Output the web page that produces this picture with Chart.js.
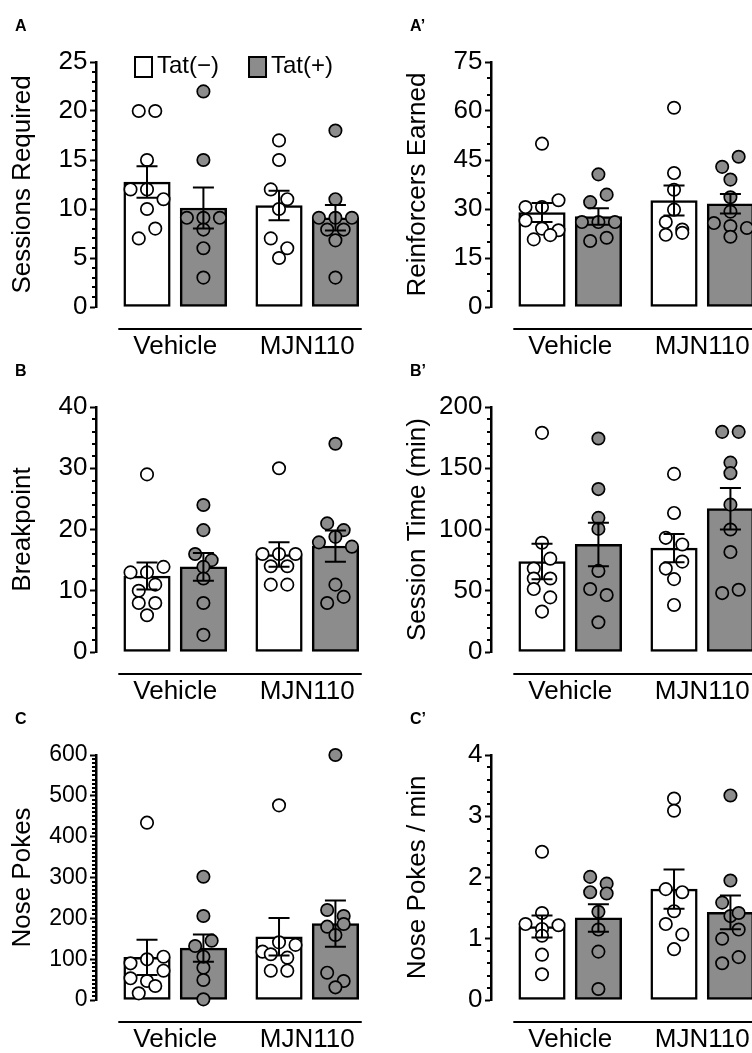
<!DOCTYPE html>
<html>
<head>
<meta charset="utf-8">
<script src="https://cdn.jsdelivr.net/npm/chart.js@4.4.0/dist/chart.umd.min.js"></script>
<style>
  html, body { margin: 0; padding: 0; background: #fff; }
  #fig { position: relative; width: 752px; height: 1053px; overflow: hidden; }
  #fig canvas { position: absolute; }
</style>
</head>
<body>
<div id="fig"></div>
<script>
// groups on the x axis and the two series
const groups = ['Vehicle', 'MJN110'];
const seriesNames = ['Tat(\u2212)', 'Tat(+)'];

// A: sessions required
const sessNegMean = [12.75, 10.35];
const sessPosMean = [10.1, 9.1];
const sessNegSem = [1.6, 1.5];
const sessPosSem = [2.1, 1.3];
const sessNegPts = [[20, 20, 15, 12, 12, 11, 10, 7, 8], [17, 15, 12, 11, 10, 7, 6, 5]];
const sessPosPts = [[22, 15, 9.1, 9.1, 9.1, 7.9, 6, 3], [18, 11, 9.1, 9.1, 9.1, 7.9, 7.9, 6.8, 3]];

// A': reinforcers earned
const reinNegMean = [28.9, 32.6];
const reinPosMean = [27.7, 31.6];
const reinNegSem = [2.9, 4.6];
const reinPosSem = [2.5, 3.0];
const reinNegPts = [[50, 30.6, 30.6, 32.7, 26.5, 24, 23.5, 20.7, 22], [61, 41, 35.9, 29.8, 26, 23.7, 22.1, 22.7]];
const reinPosPts = [[40.6, 32.1, 34.4, 26, 26, 26, 20.2, 21.2], [42.9, 46, 39, 33.6, 29.2, 25.7, 24.8, 24.2, 21.5]];

// B: breakpoint
const bpNegMean = [12.4, 15.9];
const bpPosMean = [13.9, 17.3];
const bpNegSem = [2.2, 2.0];
const bpPosSem = [2.25, 2.55];
const bpNegPts = [[29, 13, 13, 13.9, 10, 11, 8, 8, 6], [30, 16, 16, 16, 14, 14, 11, 11]];
const bpPosPts = [[24, 19.9, 16, 15, 13.9, 12, 8, 2.8], [34, 21, 19.9, 17.9, 18.8, 17.2, 11, 8, 9]];

// B': session time (min)
const timeNegMean = [73.8, 84.8];
const timePosMean = [87.8, 117];
const timeNegSem = [14.5, 11.5];
const timePosSem = [17.8, 16.9];
const timeNegPts = [[178.9, 89.2, 68.1, 76.2, 60, 60, 51.4, 44.6, 33], [145.4, 113.5, 93.2, 87.8, 68.1, 73.8, 59.5, 38.4]];
const timePosPts = [[174.3, 133, 100.5, 109.5, 66.2, 51.4, 46.5, 24.3], [179.7, 179.7, 154.6, 146, 120.3, 100, 81.6, 48.1, 50.8]];

// C: nose pokes
const pokeNegMean = [104.5, 155];
const pokePosMean = [127, 187];
const pokeNegSem = [43, 46];
const pokePosSem = [33.5, 56.5];
const pokeNegPts = [[434.3, 89.8, 99.6, 106.1, 53.1, 46.5, 71.8, 16.3, 34.3], [476.7, 118.4, 141.2, 135, 112, 103.7, 71.8, 71.8]];
const pokePosPts = [[302, 205.7, 132.2, 145.3, 79.2, 106.1, 49, 1.6], [600, 220.4, 205.7, 179.6, 186.1, 159.2, 66.9, 46.5, 31]];

// C': nose pokes per minute
const rateNegMean = [1.2, 1.81];
const ratePosMean = [1.34, 1.43];
const rateNegSem = [0.18, 0.32];
const ratePosSem = [0.225, 0.275];
const rateNegPts = [[2.42, 1.42, 1.24, 1.16, 1.22, 1.05, 0.74, 0.42], [3.29, 3.09, 1.81, 1.76, 1.45, 1.24, 1.07, 0.83]];
const ratePosPts = [[2.01, 1.9, 1.76, 1.74, 1.44, 1.15, 0.79, 0.18], [3.34, 1.95, 1.59, 1.37, 1.42, 1.0, 1.15, 0.6, 0.7]];

const FONT = '"Liberation Sans", Arial, sans-serif';
const GREY = '#8c8c8c';
const OFF = 0.2136;      // bar offset from group centre (x units)
const ROW_GAP = 10.5;    // px, points closer than this share a row
const SLOT = 16.5;       // px between points in a row

Chart.defaults.font.family = FONT;
Chart.defaults.color = '#000';
Chart.defaults.animation = false;

const prism = {
  id: 'prism',
  // spread points of similar value sideways, prism style
  afterDatasetsUpdate(chart) {
    chart.data.datasets.forEach((ds, di) => {
      if (ds.type !== 'scatter') return;
      const pts = chart.getDatasetMeta(di).data;
      const byX = {};
      ds.data.forEach((d, i) => { (byX[d.x] = byX[d.x] || []).push(i); });
      Object.values(byX).forEach(idx => {
        const sorted = idx.slice().sort((a, b) => pts[a].y - pts[b].y);
        let k = 0;
        while (k < sorted.length) {
          const row = [sorted[k]];
          let j = k + 1;
          while (j < sorted.length && pts[sorted[j]].y - pts[sorted[k]].y < ROW_GAP) {
            row.push(sorted[j]);
            j++;
          }
          row.sort((a, b) => a - b);
          row.forEach((p, r) => { pts[p].x += (r - (row.length - 1) / 2) * SLOT; });
          k = j;
        }
      });
    });
  },
  // mean +/- SEM on top of everything
  afterDatasetsDraw(chart) {
    const ctx = chart.ctx, y = chart.scales.y;
    ctx.save();
    ctx.strokeStyle = '#000';
    ctx.lineWidth = 2;
    chart.data.datasets.forEach((ds, di) => {
      if (ds.type !== 'bar') return;
      chart.getDatasetMeta(di).data.forEach((bar, i) => {
        const m = ds.data[i].y, s = ds.sem[i];
        const hi = y.getPixelForValue(m + s), lo = y.getPixelForValue(m - s);
        ctx.beginPath();
        ctx.moveTo(bar.x, hi); ctx.lineTo(bar.x, lo);
        ctx.moveTo(bar.x - 10.5, hi); ctx.lineTo(bar.x + 10.5, hi);
        ctx.moveTo(bar.x - 10.5, lo); ctx.lineTo(bar.x + 10.5, lo);
        ctx.stroke();
      });
    });
    ctx.restore();
  },
  afterDraw(chart, args, opts) {
    const ctx = chart.ctx, a = chart.chartArea;
    const x = chart.scales.x, y = chart.scales.y;
    ctx.save();
    ctx.strokeStyle = '#000';
    ctx.lineWidth = 2;
    // minor ticks
    const per = Math.round(opts.major / opts.minor);
    const n = Math.round(y.max / opts.minor);
    ctx.beginPath();
    for (let i = 1; i < n; i++) {
      if (i % per === 0) continue;
      const py = Math.round(y.getPixelForValue(i * opts.minor));
      ctx.moveTo(a.left - 4, py); ctx.lineTo(a.left, py);
    }
    ctx.stroke();
    // line under the groups
    const ly = a.bottom + 22;
    ctx.beginPath();
    ctx.moveTo(x.getPixelForValue(0.569), ly);
    ctx.lineTo(x.getPixelForValue(2.413), ly);
    ctx.stroke();
    // legend
    if (opts.legend) {
      ctx.font = '24px ' + FONT;
      ctx.textBaseline = 'middle';
      ctx.fillStyle = '#000';
      let bx = a.left + 39;
      chart.data.datasets.filter(d => d.type === 'bar').forEach(d => {
        ctx.fillStyle = d.backgroundColor;
        ctx.fillRect(bx, a.top - 5, 17, 20);
        ctx.strokeRect(bx, a.top - 5, 17, 20);
        ctx.fillStyle = '#000';
        ctx.fillText(d.label, bx + 22, a.top + 4);
        bx += 22 + ctx.measureText(d.label).width + 30;
      });
    }
    ctx.restore();
  }
};

function makePanel(p) {
  const canvas = document.createElement('canvas');
  canvas.width = 390;
  canvas.height = 360;
  canvas.style.left = p.left + 'px';
  canvas.style.top = p.top + 'px';
  document.getElementById('fig').appendChild(canvas);

  const bars = (label, means, sems, fill, shift) => ({
    type: 'bar', label: label, order: 2,
    data: means.map((m, g) => ({ x: g + 1 + shift, y: m })),
    sem: sems,
    backgroundColor: fill, borderColor: '#000', borderWidth: 2.5,
    borderSkipped: false, barThickness: 46.5, grouped: false
  });
  const dots = (label, pts, fill, shift) => ({
    type: 'scatter', label: label, order: 1, clip: false,
    data: pts.flatMap((arr, g) => arr.map(v => ({ x: g + 1 + shift, y: v }))),
    pointRadius: 6.2, pointBorderWidth: 1.7,
    pointBackgroundColor: fill, pointBorderColor: '#000'
  });

  return new Chart(canvas, {
    type: 'bar',
    data: {
      datasets: [
        bars(seriesNames[0], p.negMean, p.negSem, '#fff', -OFF),
        bars(seriesNames[1], p.posMean, p.posSem, GREY, OFF),
        dots(seriesNames[0], p.negPts, '#fff', -OFF),
        dots(seriesNames[1], p.posPts, GREY, OFF)
      ]
    },
    options: {
      responsive: false,
      events: [],
      layout: { autoPadding: false, padding: { left: 15, right: 0, top: 0, bottom: 0 } },
      plugins: {
        legend: { display: false },
        tooltip: { enabled: false },
        title: {
          display: true, text: p.letter, align: 'start', color: '#000',
          font: { size: 16, weight: 'bold' },
          padding: { top: 17.4, bottom: 25.4 }
        },
        prism: { legend: !!p.legend, major: p.yStep, minor: p.yMinor }
      },
      scales: {
        x: {
          type: 'linear', min: 0.4, max: 2.627, offset: false,
          grid: { display: false, drawTicks: false, offset: false },
          border: { display: false },
          afterBuildTicks: s => { s.ticks = groups.map((g, i) => ({ value: i + 1 })); },
          afterFit: s => { s.height = 53; s.paddingLeft = 0; s.paddingRight = 0; },
          ticks: {
            padding: 24, maxRotation: 0, autoSkip: false,
            font: { size: 26 },
            callback: v => groups[Math.round(v) - 1]
          }
        },
        y: {
          min: 0, max: p.yMax,
          afterFit: s => { s.width = 81; },
          grid: { drawOnChartArea: false, tickLength: 6, tickWidth: 2, tickColor: '#000' },
          border: { display: true, color: '#000', width: 2.5 },
          ticks: { stepSize: p.yStep, padding: 2.5, font: { size: p.tickSize } },
          title: {
            display: true, text: p.yTitle, color: '#000',
            font: { size: 26 }, padding: { top: -8, bottom: 0 }
          }
        }
      }
    },
    plugins: [prism]
  });
}

makePanel({ left: 0, top: 0, letter: 'A', yTitle: 'Sessions Required', yMax: 25, yStep: 5, yMinor: 1, tickSize: 26,
  negMean: sessNegMean, posMean: sessPosMean, negSem: sessNegSem, posSem: sessPosSem,
  negPts: sessNegPts, posPts: sessPosPts, legend: true });
makePanel({ left: 395, top: 0, letter: 'A\u2019', yTitle: 'Reinforcers Earned', yMax: 75, yStep: 15, yMinor: 5, tickSize: 26,
  negMean: reinNegMean, posMean: reinPosMean, negSem: reinNegSem, posSem: reinPosSem,
  negPts: reinNegPts, posPts: reinPosPts });
makePanel({ left: 0, top: 345, letter: 'B', yTitle: 'Breakpoint', yMax: 40, yStep: 10, yMinor: 2, tickSize: 26,
  negMean: bpNegMean, posMean: bpPosMean, negSem: bpNegSem, posSem: bpPosSem,
  negPts: bpNegPts, posPts: bpPosPts });
makePanel({ left: 395, top: 345, letter: 'B\u2019', yTitle: 'Session Time (min)', yMax: 200, yStep: 50, yMinor: 10, tickSize: 26,
  negMean: timeNegMean, posMean: timePosMean, negSem: timeNegSem, posSem: timePosSem,
  negPts: timeNegPts, posPts: timePosPts });
makePanel({ left: 0, top: 693, letter: 'C', yTitle: 'Nose Pokes', yMax: 600, yStep: 100, yMinor: 10, tickSize: 23,
  negMean: pokeNegMean, posMean: pokePosMean, negSem: pokeNegSem, posSem: pokePosSem,
  negPts: pokeNegPts, posPts: pokePosPts });
makePanel({ left: 395, top: 693, letter: 'C\u2019', yTitle: 'Nose Pokes / min', yMax: 4, yStep: 1, yMinor: 0.2, tickSize: 26,
  negMean: rateNegMean, posMean: ratePosMean, negSem: rateNegSem, posSem: ratePosSem,
  negPts: rateNegPts, posPts: ratePosPts });
</script>
</body>
</html>
